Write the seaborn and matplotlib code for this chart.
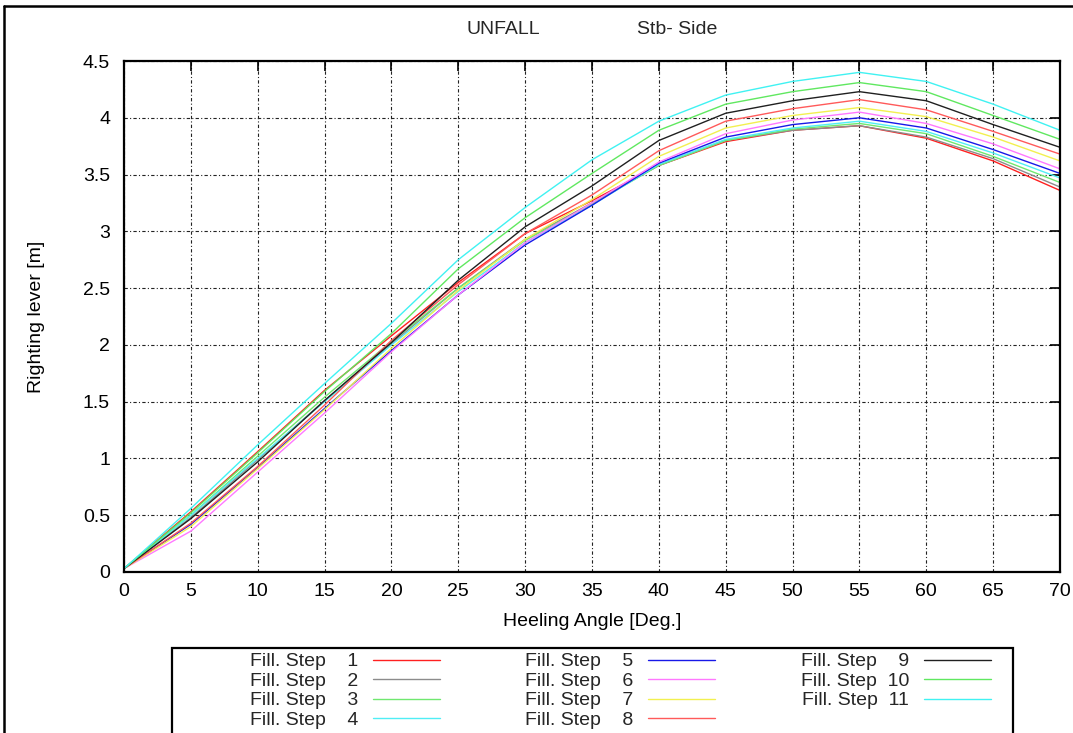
import pandas as pd
import seaborn as sns
from matplotlib import pyplot as plt
from matplotlib.patches import Rectangle
from matplotlib.lines import Line2D

# heeling angles [deg]
angles = [0, 5, 10, 15, 20, 25, 30, 35, 40, 45, 50, 55, 60, 65, 70]

# righting lever [m] per fill step
step1 = [0.03, 0.53, 1.06, 1.60, 2.08, 2.55, 2.98, 3.27, 3.58, 3.79, 3.89, 3.93, 3.82, 3.62, 3.36]
step2 = [0.03, 0.48, 0.99, 1.51, 2.01, 2.50, 2.93, 3.25, 3.58, 3.80, 3.89, 3.93, 3.83, 3.64, 3.39]
step3 = [0.03, 0.50, 1.02, 1.54, 2.03, 2.50, 2.92, 3.24, 3.58, 3.80, 3.90, 3.95, 3.86, 3.66, 3.43]
step4 = [0.03, 0.50, 1.00, 1.50, 2.00, 2.47, 2.90, 3.23, 3.59, 3.81, 3.91, 3.97, 3.88, 3.69, 3.47]
step5 = [0.03, 0.42, 0.92, 1.44, 1.95, 2.44, 2.88, 3.23, 3.60, 3.83, 3.94, 4.00, 3.91, 3.72, 3.51]
step6 = [0.03, 0.36, 0.88, 1.40, 1.94, 2.44, 2.90, 3.25, 3.61, 3.86, 3.98, 4.05, 3.95, 3.77, 3.55]
step7 = [0.03, 0.40, 0.91, 1.43, 1.97, 2.48, 2.93, 3.28, 3.66, 3.91, 4.02, 4.09, 4.01, 3.83, 3.62]
step8 = [0.03, 0.43, 0.93, 1.47, 2.04, 2.53, 2.98, 3.32, 3.71, 3.97, 4.08, 4.16, 4.07, 3.88, 3.68]
step9 = [0.03, 0.47, 0.97, 1.51, 2.02, 2.57, 3.04, 3.40, 3.80, 4.04, 4.15, 4.23, 4.15, 3.94, 3.74]
step10 = [0.03, 0.52, 1.05, 1.59, 2.10, 2.67, 3.12, 3.51, 3.89, 4.12, 4.23, 4.31, 4.23, 4.02, 3.81]
step11 = [0.03, 0.56, 1.12, 1.66, 2.19, 2.75, 3.21, 3.63, 3.97, 4.20, 4.32, 4.40, 4.32, 4.12, 3.89]

steps = [step1, step2, step3, step4, step5, step6, step7, step8, step9, step10, step11]
step_names = ['Fill. Step    %d' % i if i < 10 else 'Fill. Step  %d' % i for i in range(1, 12)]
step_colors = ['#ff2020', '#8c8c8c', '#70e870', '#50eef5', '#1818e8', '#ff78ff',
               '#f2f050', '#ff5a5a', '#202020', '#60e860', '#40f2f2']

xticks = list(range(0, 71, 5))
yticks = [0, 0.5, 1, 1.5, 2, 2.5, 3, 3.5, 4, 4.5]
ytick_labels = ['0', '0.5', '1', '1.5', '2', '2.5', '3', '3.5', '4', '4.5']

rows = []
for name, vals in zip(step_names, steps):
    for a, v in zip(angles, vals):
        rows.append((a, v, name))
df = pd.DataFrame(rows, columns=['angle', 'lever', 'step'])

sns.set_theme(style="white")
plt.rcParams['font.family'] = ['Liberation Sans', 'DejaVu Sans']

fig = plt.figure(figsize=(10.73, 7.33), dpi=100)
ax = fig.add_axes([0.11556, 0.21965, 0.87232, 0.69713])

sns.lineplot(data=df, x='angle', y='lever', hue='step', hue_order=step_names,
             palette=dict(zip(step_names, step_colors)), linewidth=1.0, ax=ax)

ax.set_xlim(0, 70)
ax.set_ylim(0, 4.5)
ax.set_xticks(xticks)
ax.set_yticks(yticks)
ax.set_yticklabels(ytick_labels)
ax.grid(True, color='#222222', linestyle=(0, (3, 2, 1, 2)), linewidth=0.8)
ax.tick_params(direction='in', length=7, width=1.2, color='black', top=True, right=True,
               labelsize=14, labelcolor='black')
ax.tick_params(axis='x', pad=8)
ax.tick_params(axis='y', pad=10)
for sp in ax.spines.values():
    sp.set_color('black')
    sp.set_linewidth(1.6)

ax.set_xlabel('Heeling Angle [Deg.]', fontsize=14, color='black')
ax.set_ylabel('Righting lever [m]', fontsize=14, color='black')
ax.xaxis.set_label_coords(0.5, -0.08)
ax.yaxis.set_label_coords(-0.084, 0.5)

fig.text(503 / 1073, 1 - 30 / 733, 'UNFALL', ha='center', va='center', fontsize=14)
fig.text(677 / 1073, 1 - 30 / 733, 'Stb- Side', ha='center', va='center', fontsize=14)

handles, labels = ax.get_legend_handles_labels()
ax.get_legend().remove()
fig.legend(handles, labels, ncol=3, markerfirst=False, loc='upper left',
           bbox_to_anchor=(240 / 1073, 1 - 643 / 733), frameon=False, borderpad=0,
           fontsize=14, labelspacing=0.1, handlelength=3.45, handletextpad=0.75,
           columnspacing=4.4)

# legend frame and outer picture border
fig.add_artist(Rectangle((172 / 1073, -0.02), (1013 - 172) / 1073, 0.02 + (733 - 648) / 733,
                         transform=fig.transFigure, fill=False, ec='black', lw=1.6))
fig.add_artist(Line2D([4 / 1073, 4 / 1073], [0, 1 - 6 / 733], transform=fig.transFigure,
                      color='black', lw=1.8))
fig.add_artist(Line2D([4 / 1073, 1], [1 - 6 / 733, 1 - 6 / 733], transform=fig.transFigure,
                      color='black', lw=1.8))

fig.savefig('out.png', dpi=100)
